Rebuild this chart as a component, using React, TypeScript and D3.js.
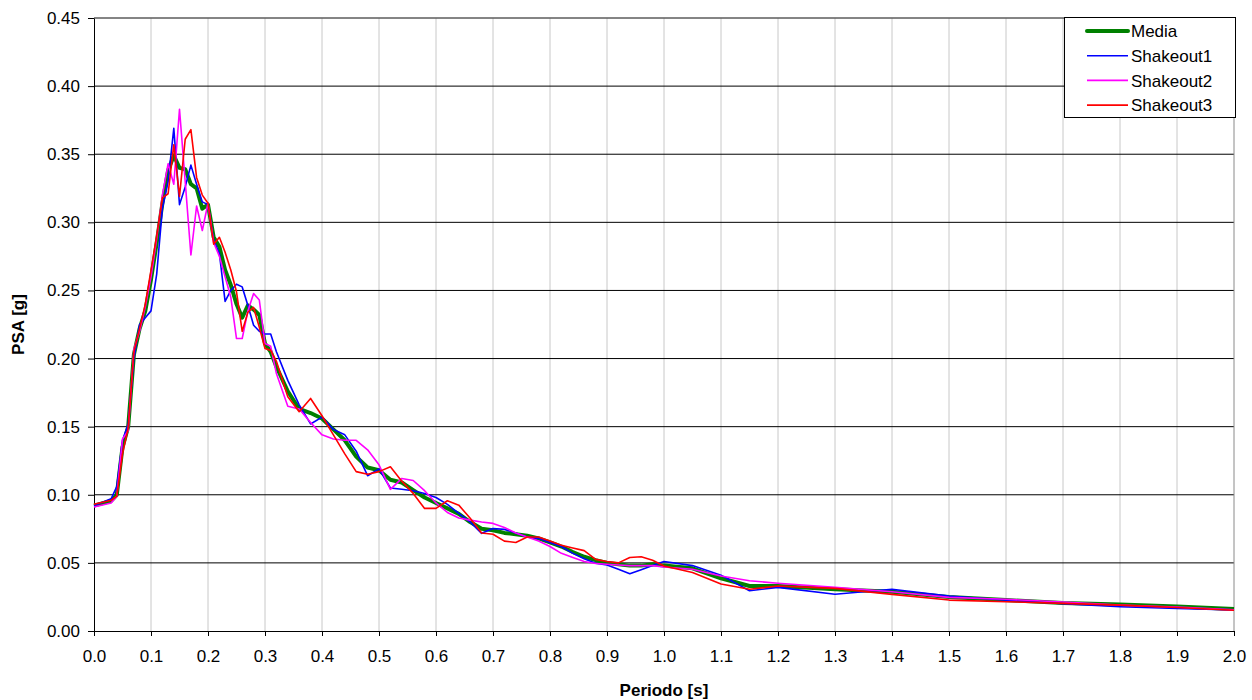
import React, { useRef, useEffect } from 'react'
import * as d3 from 'd3'

const periods = [
  0.0, 0.03, 0.04, 0.05, 0.06, 0.07, 0.08, 0.09, 0.1, 0.11, 0.12, 0.13, 0.14, 0.15, 0.16, 0.17, 0.18, 0.19, 0.2, 0.21,
  0.22, 0.23, 0.24, 0.25, 0.26, 0.27, 0.28, 0.29, 0.3, 0.31, 0.32, 0.34, 0.36, 0.38, 0.4, 0.42, 0.44, 0.46, 0.48, 0.5,
  0.52, 0.54, 0.56, 0.58, 0.6, 0.62, 0.64, 0.66, 0.68, 0.7, 0.72, 0.74, 0.76, 0.78, 0.8, 0.82, 0.84, 0.86, 0.88, 0.9,
  0.92, 0.94, 0.96, 0.98, 1.0, 1.05, 1.1, 1.15, 1.2, 1.3, 1.4, 1.5, 1.6, 1.7, 1.8, 1.9, 2.0,
]

const media = [
  0.092, 0.0955, 0.1, 0.135, 0.15, 0.203, 0.222, 0.235, 0.258, 0.285, 0.314, 0.338, 0.349, 0.34, 0.339, 0.328, 0.325,
  0.31, 0.313, 0.289, 0.282, 0.265, 0.254, 0.24, 0.23, 0.239, 0.236, 0.232, 0.211, 0.205, 0.194, 0.176, 0.163, 0.16,
  0.156, 0.148, 0.14, 0.128, 0.12, 0.118, 0.111, 0.109, 0.1034, 0.098, 0.094, 0.09, 0.086, 0.08, 0.075, 0.074, 0.072,
  0.071, 0.07, 0.068, 0.065, 0.062, 0.058, 0.0545, 0.052, 0.05, 0.049, 0.048, 0.048, 0.049, 0.048, 0.046, 0.0387,
  0.033, 0.033, 0.0306, 0.0288, 0.025, 0.0227, 0.0205, 0.0195, 0.018, 0.0162,
]

const shakeout1 = [
  0.092, 0.097, 0.106, 0.14, 0.152, 0.2, 0.225, 0.23, 0.235, 0.262, 0.31, 0.33, 0.369, 0.313, 0.326, 0.342, 0.328,
  0.315, 0.313, 0.287, 0.277, 0.242, 0.25, 0.2546, 0.2526, 0.239, 0.2245, 0.22, 0.218, 0.218, 0.205, 0.184, 0.166,
  0.152, 0.157, 0.148, 0.144, 0.132, 0.114, 0.119, 0.105, 0.104, 0.103, 0.101, 0.098, 0.093, 0.0863, 0.08, 0.0717,
  0.0753, 0.0746, 0.072, 0.069, 0.068, 0.065, 0.062, 0.057, 0.053, 0.0497, 0.0484, 0.0453, 0.042, 0.045, 0.048, 0.051,
  0.048, 0.041, 0.0296, 0.032, 0.027, 0.0306, 0.0257, 0.0227, 0.02, 0.0178, 0.0165, 0.0155,
]

const shakeout2 = [
  0.091, 0.094, 0.099, 0.141, 0.147, 0.207, 0.22, 0.238, 0.26, 0.288, 0.32, 0.343, 0.328, 0.383, 0.33, 0.276, 0.312,
  0.294, 0.314, 0.285, 0.275, 0.26, 0.245, 0.2147, 0.2147, 0.235, 0.2477, 0.243, 0.211, 0.209, 0.189, 0.165, 0.163,
  0.153, 0.144, 0.141, 0.14, 0.14, 0.133, 0.122, 0.104, 0.112, 0.1105, 0.103, 0.094, 0.087, 0.083, 0.0814, 0.08, 0.079,
  0.076, 0.072, 0.069, 0.066, 0.062, 0.057, 0.054, 0.051, 0.0495, 0.049, 0.0485, 0.048, 0.048, 0.048, 0.047, 0.0453,
  0.0404, 0.0369, 0.035, 0.032, 0.0288, 0.0247, 0.0233, 0.0213, 0.019, 0.0175, 0.0155,
]

const shakeout3 = [
  0.093, 0.096, 0.099, 0.13, 0.149, 0.205, 0.222, 0.24, 0.265, 0.29, 0.318, 0.321, 0.357, 0.319, 0.361, 0.368, 0.333,
  0.32, 0.314, 0.284, 0.289, 0.278, 0.265, 0.249, 0.22, 0.234, 0.2375, 0.223, 0.2074, 0.206, 0.198, 0.172, 0.161,
  0.1707, 0.158, 0.144, 0.13, 0.117, 0.115, 0.117, 0.1205, 0.11, 0.101, 0.09, 0.09, 0.0956, 0.0924, 0.0827, 0.072,
  0.071, 0.066, 0.065, 0.069, 0.069, 0.066, 0.063, 0.061, 0.059, 0.0526, 0.051, 0.05, 0.054, 0.0545, 0.052, 0.0477,
  0.043, 0.0345, 0.0306, 0.033, 0.0313, 0.0269, 0.0227, 0.0215, 0.0203, 0.019, 0.0172, 0.0152,
]

const seriesNames = ['Media', 'Shakeout1', 'Shakeout2', 'Shakeout3']
const seriesColors = ['#008000', '#0000ff', '#ff00ff', '#ff0000']
const seriesWidths = [4, 1.6, 1.6, 1.6]

const xTicks = d3.range(0, 21).map((i) => i / 10)
const yTicks = d3.range(0, 10).map((i) => i * 0.05)

export default function App() {
  const ref = useRef(null)
  const width = 1252
  const height = 700
  const margin = { top: 18, right: 18, bottom: 69, left: 94 }

  useEffect(() => {
    const svg = d3.select(ref.current)
    svg.selectAll('*').remove()

    const x = d3.scaleLinear().domain([0, 2]).range([margin.left, width - margin.right])
    const y = d3.scaleLinear().domain([0, 0.45]).range([height - margin.bottom, margin.top])
    const font = 'Liberation Sans, Arial, sans-serif'

    // vertical grid
    svg.append('g')
      .selectAll('line')
      .data(xTicks.slice(1, -1))
      .join('line')
      .attr('x1', (d) => x(d))
      .attr('x2', (d) => x(d))
      .attr('y1', y(0.45))
      .attr('y2', y(0))
      .attr('stroke', '#c8c8c8')
      .attr('stroke-width', 1)

    // horizontal grid
    svg.append('g')
      .selectAll('line')
      .data(yTicks.slice(1))
      .join('line')
      .attr('x1', x(0))
      .attr('x2', x(2))
      .attr('y1', (d) => y(d))
      .attr('y2', (d) => y(d))
      .attr('stroke', '#000')
      .attr('stroke-width', 1)

    // frame top/right
    svg.append('line')
      .attr('x1', x(0)).attr('x2', x(2)).attr('y1', y(0.45)).attr('y2', y(0.45))
      .attr('stroke', '#8a8a8a')
    svg.append('line')
      .attr('x1', x(2)).attr('x2', x(2)).attr('y1', y(0.45)).attr('y2', y(0))
      .attr('stroke', '#8a8a8a')

    // axes
    const xAxis = svg.append('g')
      .attr('transform', 'translate(0,' + y(0) + ')')
      .call(d3.axisBottom(x).tickValues(xTicks).tickFormat(d3.format('.1f')).tickSize(5).tickSizeOuter(0).tickPadding(14))
    const yAxis = svg.append('g')
      .attr('transform', 'translate(' + x(0) + ',0)')
      .call(d3.axisLeft(y).tickValues(yTicks).tickFormat(d3.format('.2f')).tickSize(6).tickSizeOuter(0).tickPadding(8))
    ;[xAxis, yAxis].forEach((g) => {
      g.selectAll('path,line').attr('stroke', '#000')
      g.selectAll('text').attr('font-family', font).attr('font-size', 17).attr('fill', '#000')
    })

    // lines
    const tables = [media, shakeout1, shakeout2, shakeout3]
    const line = d3.line().x((d) => x(d[0])).y((d) => y(d[1]))
    tables.forEach((vals, i) => {
      svg.append('path')
        .datum(periods.map((p, j) => [p, vals[j]]))
        .attr('d', line)
        .attr('fill', 'none')
        .attr('stroke', seriesColors[i])
        .attr('stroke-width', seriesWidths[i])
        .attr('stroke-linejoin', 'round')
    })

    // axis titles
    svg.append('text')
      .attr('x', (x(0) + x(2)) / 2)
      .attr('y', 696)
      .attr('text-anchor', 'middle')
      .attr('font-family', font)
      .attr('font-size', 17)
      .attr('font-weight', 'bold')
      .text('Periodo [s]')
    svg.append('text')
      .attr('transform', 'translate(24,' + (y(0) + y(0.45)) / 2 + ') rotate(-90)')
      .attr('text-anchor', 'middle')
      .attr('font-family', font)
      .attr('font-size', 17)
      .attr('font-weight', 'bold')
      .text('PSA [g]')

    // legend
    const lg = svg.append('g')
    lg.append('rect')
      .attr('x', 1064.5).attr('y', 17.5).attr('width', 171).attr('height', 100)
      .attr('fill', '#fff').attr('stroke', '#000')
    seriesNames.forEach((name, i) => {
      const ly = 31 + i * 24.7
      lg.append('line')
        .attr('x1', 1087).attr('x2', 1128).attr('y1', ly).attr('y2', ly)
        .attr('stroke', seriesColors[i])
        .attr('stroke-width', i === 0 ? 4 : 1.6)
        .attr('stroke-linecap', i === 0 ? 'round' : 'butt')
      lg.append('text')
        .attr('x', 1131).attr('y', ly).attr('dy', '0.36em')
        .attr('font-family', font).attr('font-size', 17)
        .text(name)
    })
  }, [])

  return (
    <svg
      ref={ref}
      width={width}
      height={height}
      style={{ position: 'absolute', left: 0, top: 0, background: '#fff' }}
    ></svg>
  )
}
